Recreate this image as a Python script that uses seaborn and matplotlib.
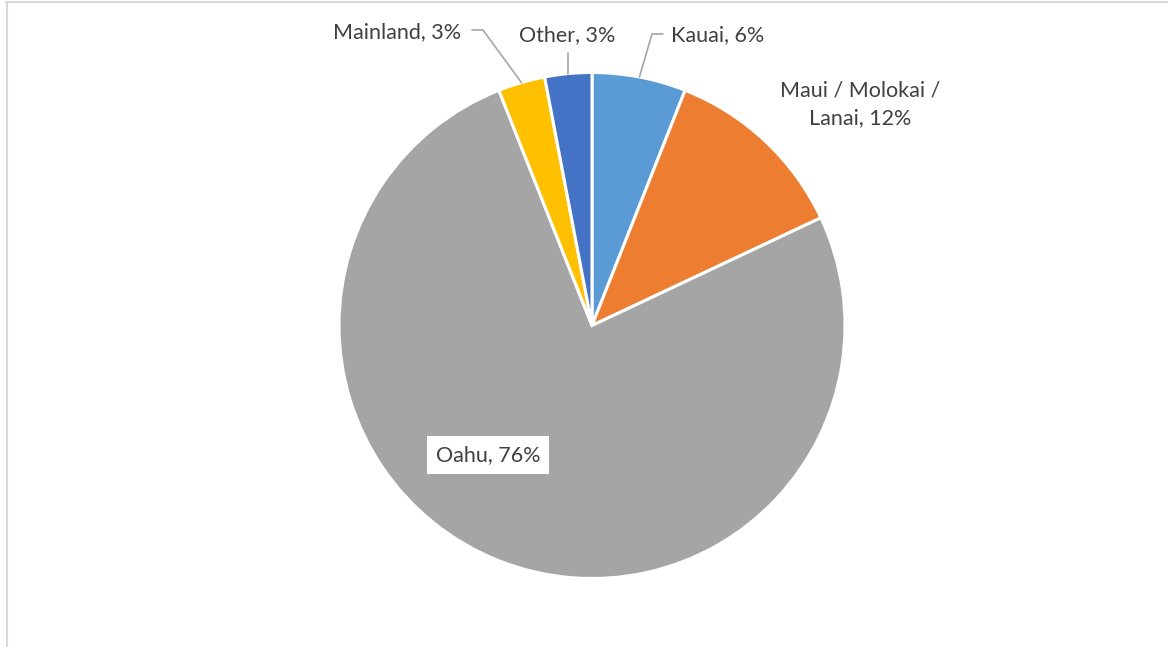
import numpy as np
import matplotlib
matplotlib.use("Agg")
import matplotlib.pyplot as plt
from matplotlib.lines import Line2D
import seaborn as sns

# ---- data ----
categories = ["Kauai", "Maui / Molokai /\nLanai", "Oahu", "Mainland", "Other"]
shares = [6, 12, 76, 3, 3]
colors = ["#5B9BD5", "#ED7D31", "#A5A5A5", "#FFC000", "#4472C4"]

sns.set_theme(style="white")
plt.rcParams['font.family'] = ['Lato', 'DejaVu Sans']

W, H = 1168, 647
fig = plt.figure(figsize=(W / 100, H / 100), dpi=100)
fig.patch.set_facecolor("white")

cx, cy, R = 592, 325.5, 253
ax = fig.add_axes([(cx - R) / W, (H - cy - R) / H, 2 * R / W, 2 * R / H])
wedges, _ = ax.pie(shares, colors=sns.color_palette(colors), startangle=90,
                   counterclock=False, radius=1,
                   wedgeprops=dict(edgecolor="white", linewidth=2.2))
ax.set_xlim(-1, 1)
ax.set_ylim(-1, 1)
ax.axis("off")


def px(x, y):
    return ((x - cx) / R, (cy - y) / R)


tcolor = "#404040"
fs = 15.5
labels = [f"{c}, {v}%" for c, v in zip(categories, shares)]


def edge_point(w):
    a = np.deg2rad((w.theta1 + w.theta2) / 2)
    return np.cos(a), np.sin(a)


lc = "#A6A6A6"
# Kauai
ex, ey = edge_point(wedges[0])
p1 = px(652, 34); p2 = px(663, 34)
ax.plot([ex, p1[0], p2[0]], [ey, p1[1], p2[1]], color=lc, lw=1.2, clip_on=False)
ax.text(*px(671, 35), labels[0], ha="left", va="center", fontsize=fs, color=tcolor)
# Maui
ax.text(*px(860, 104), labels[1], ha="center", va="center", fontsize=fs,
        color=tcolor, linespacing=1.45)
# Oahu
ax.text(*px(488, 455), labels[2], ha="center", va="center", fontsize=fs, color=tcolor,
        bbox=dict(boxstyle="square,pad=0.4", fc="white", ec="none"))
# Mainland
ex, ey = edge_point(wedges[3])
p1 = px(483, 30); p2 = px(472, 30)
ax.plot([ex, p1[0], p2[0]], [ey, p1[1], p2[1]], color=lc, lw=1.2, clip_on=False)
ax.text(*px(461, 32), labels[3], ha="right", va="center", fontsize=fs, color=tcolor)
# Other
ex, ey = edge_point(wedges[4])
p1 = px(567, 53)
ax.plot([ex, ex], [ey, p1[1]], color=lc, lw=1.2, clip_on=False)
ax.text(*px(567, 35), labels[4], ha="center", va="center", fontsize=fs, color=tcolor)

# chart-area border (partially visible)
fig.add_artist(Line2D([6 / W, 1], [1 - 1.5 / H, 1 - 1.5 / H], color="#D9D9D9", lw=1.5))
fig.add_artist(Line2D([6.5 / W, 6.5 / W], [0, 1 - 1.5 / H], color="#D9D9D9", lw=1.5))

fig.savefig("out.png", dpi=100, facecolor="white")
